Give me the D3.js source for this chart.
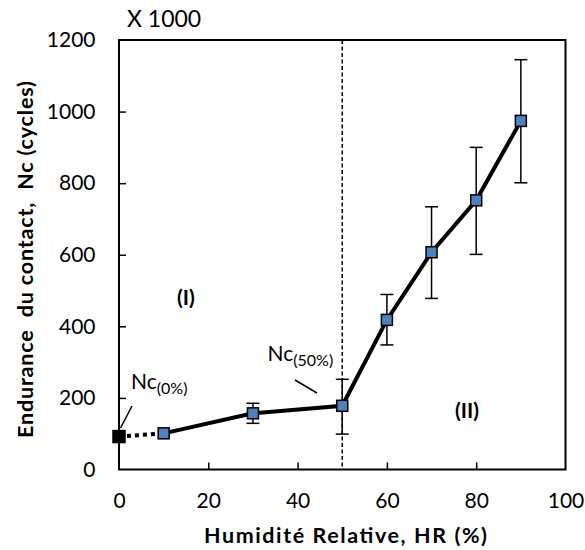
<!DOCTYPE html>
<html lang="fr">
<head>
<meta charset="utf-8">
<title>Endurance du contact</title>
<script src="https://d3js.org/d3.v7.min.js"></script>
<style>
	body { margin: 0; background: #fff; }
	text { font-family: Lato, "Open Sans", sans-serif; fill: #000; }
	.tick text { font-size: 21px; }
	.axis-title { font-size: 21.5px; font-weight: bold; }
</style>
</head>
<body>
<script>
// Data (x 1000 cycles)
var humidity = [10, 30, 50, 60, 70, 80, 90];
var cycles   = [101, 157, 178, 418, 607, 752, 974];
var errLow   = [101, 129, 99, 348, 478, 601, 801];
var errHigh  = [101, 185, 252, 489, 734, 900, 1145];
var dryPoint = [0, 92];
var xTicks = [0, 20, 40, 60, 80, 100];
var yTicks = [0, 200, 400, 600, 800, 1000, 1200];

var width = 585, height = 550;
var margin = {top: 40, right: 19.5, bottom: 80.5, left: 119};
var w = width - margin.left - margin.right;
var h = height - margin.top - margin.bottom;

var svg = d3.select("body").append("svg")
	.attr("width", width)
	.attr("height", height);

var g = svg.append("g")
	.attr("transform", "translate(" + margin.left + "," + margin.top + ")");

var xScale = d3.scaleLinear().domain([0, 100]).range([0, w]);
var yScale = d3.scaleLinear().domain([0, 1200]).range([h, 0]);

// frame
g.append("rect")
	.attr("width", w).attr("height", h)
	.attr("fill", "none").attr("stroke", "#000").attr("stroke-width", 2);

// x axis, ticks pointing inward
var xAxis = d3.axisBottom(xScale).tickValues(xTicks).tickFormat(d3.format("d"))
	.tickSize(-7).tickPadding(23.5);
g.append("g")
	.attr("transform", "translate(0," + h + ")")
	.call(xAxis)
	.call(function(s) {
		s.select(".domain").remove();
		s.selectAll(".tick line").attr("stroke-width", 1.5);
		s.selectAll(".tick").filter(function(d) { return d === 0 || d === 100; }).select("line").remove();
	});

// y axis
var yAxis = d3.axisLeft(yScale).tickValues(yTicks).tickFormat(d3.format("d"))
	.tickSize(-7).tickPadding(23.5);
g.append("g")
	.call(yAxis)
	.call(function(s) {
		s.select(".domain").remove();
		s.selectAll(".tick line").attr("stroke-width", 1.5);
		s.selectAll(".tick").filter(function(d) { return d === 0 || d === 1200; }).select("line").remove();
	});

// axis titles
g.append("text")
	.attr("class", "axis-title")
	.attr("x", 226.5)
	.attr("y", h + 73.5)
	.attr("text-anchor", "middle")
	.attr("textLength", 283)
	.attr("lengthAdjust", "spacing")
	.text("Humidité Relative, HR (%)");

g.append("text")
	.attr("class", "axis-title")
	.attr("transform", "translate(-86.5," + (h / 2 + 4.75) + ") rotate(-90)")
	.attr("text-anchor", "middle")
	.attr("xml:space", "preserve")
	.attr("textLength", 357)
	.attr("lengthAdjust", "spacing")
	.text("Endurance  du contact,  Nc (cycles)");

g.append("text")
	.attr("x", 8).attr("y", -13.3)
	.style("font-size", "23px")
	.text("X 1000");

// vertical dashed line at 50%
g.append("line")
	.attr("x1", xScale(50)).attr("x2", xScale(50))
	.attr("y1", 0).attr("y2", h)
	.attr("stroke", "#000").attr("stroke-width", 1.5)
	.attr("stroke-dasharray", "4,2.5");

// dotted segment from dry point
g.append("line")
	.attr("x1", xScale(dryPoint[0])).attr("y1", yScale(dryPoint[1]))
	.attr("x2", xScale(humidity[0])).attr("y2", yScale(cycles[0]))
	.attr("stroke", "#000").attr("stroke-width", 4)
	.attr("stroke-dasharray", "4,4");

// main line
var line = d3.line()
	.x(function(d, i) { return xScale(humidity[i]); })
	.y(function(d) { return yScale(d); });

g.append("path")
	.datum(cycles)
	.attr("d", line)
	.attr("fill", "none")
	.attr("stroke", "#000")
	.attr("stroke-width", 4);

// error bars
var eb = g.selectAll(".err")
	.data(humidity.map(function(x, i) { return {x: x, lo: errLow[i], hi: errHigh[i]}; })
		.filter(function(d) { return d.hi > d.lo; }))
	.enter().append("g").attr("class", "err")
	.attr("stroke", "#000").attr("stroke-width", 1.5);

eb.append("line")
	.attr("x1", function(d) { return xScale(d.x); })
	.attr("x2", function(d) { return xScale(d.x); })
	.attr("y1", function(d) { return yScale(d.lo); })
	.attr("y2", function(d) { return yScale(d.hi); });
eb.append("line")
	.attr("x1", function(d) { return xScale(d.x) - 6.5; })
	.attr("x2", function(d) { return xScale(d.x) + 6.5; })
	.attr("y1", function(d) { return yScale(d.hi); })
	.attr("y2", function(d) { return yScale(d.hi); });
eb.append("line")
	.attr("x1", function(d) { return xScale(d.x) - 6.5; })
	.attr("x2", function(d) { return xScale(d.x) + 6.5; })
	.attr("y1", function(d) { return yScale(d.lo); })
	.attr("y2", function(d) { return yScale(d.lo); });

// markers
var ms = 11;
g.selectAll(".pt")
	.data(cycles)
	.enter().append("rect")
	.attr("class", "pt")
	.attr("x", function(d, i) { return xScale(humidity[i]) - ms / 2; })
	.attr("y", function(d) { return yScale(d) - ms / 2; })
	.attr("width", ms).attr("height", ms)
	.attr("fill", "#4F81BD")
	.attr("stroke", "#000").attr("stroke-width", 1.5);

g.append("rect")
	.attr("x", xScale(dryPoint[0]) - 6.75)
	.attr("y", yScale(dryPoint[1]) - 6.75)
	.attr("width", 13.5).attr("height", 13.5)
	.attr("fill", "#000");

// annotations
function ncLabel(x, y, sub) {
	var t = g.append("text").attr("x", x).attr("y", y).style("font-size", "21px");
	t.append("tspan").text("Nc");
	t.append("tspan").attr("dy", 5).style("font-size", "16px").text(sub);
}
ncLabel(12, 349, "(0%)");
ncLabel(148.5, 320.5, "(50%)");

g.append("line")
	.attr("x1", 13).attr("y1", 366).attr("x2", 1.5).attr("y2", 388)
	.attr("stroke", "#000").attr("stroke-width", 1.5);
g.append("line")
	.attr("x1", 176).attr("y1", 340).attr("x2", 198).attr("y2", 353)
	.attr("stroke", "#000").attr("stroke-width", 1.5);

g.append("text")
	.attr("x", 58).attr("y", 265)
	.style("font-size", "21px").style("font-weight", "bold")
	.text("(I)");
g.append("text")
	.attr("x", 336).attr("y", 378)
	.style("font-size", "21px").style("font-weight", "bold")
	.text("(II)");
</script>
</body>
</html>
